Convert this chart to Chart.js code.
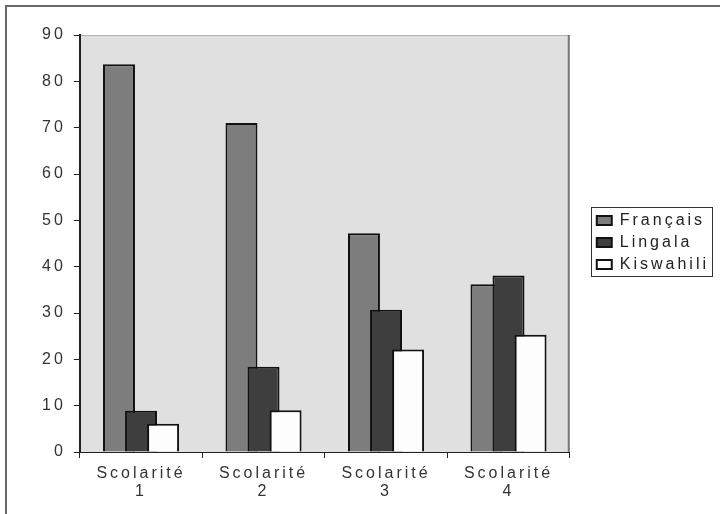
<!DOCTYPE html>
<html>
<head>
<meta charset="utf-8">
<script src="https://cdn.jsdelivr.net/npm/chart.js@4.4.0/dist/chart.umd.min.js"></script>
<style>
  html, body { margin: 0; padding: 0; background: #fff; }
  #wrap { width: 720px; height: 514px; position: relative; }
</style>
</head>
<body>
<div id="wrap"><canvas id="barChart" width="720" height="514"></canvas></div>
<script>
// data
var categories = [['Scolarité', '1'], ['Scolarité', '2'], ['Scolarité', '3'], ['Scolarité', '4']];
var francais = [83.7, 71.0, 47.2, 36.2];
var lingala = [8.9, 18.4, 30.7, 38.1];
var kiswahili = [6.1, 9.0, 22.1, 25.3];
var yTicks = [0, 10, 20, 30, 40, 50, 60, 70, 80, 90];

var fontFamily = '"Liberation Sans", Arial, sans-serif';
var spacing = '3px'; // the original text is widely spaced
var legendGap = 21;  // room between plot and legend
var legendDrop = -1;

var decoPlugin = {
  id: 'deco',
  beforeUpdate: function(chart) {
    chart.ctx.letterSpacing = spacing;
  },
  beforeLayout: function(chart) {
    var lg = chart.legend;
    if (lg && !lg._gapPatched) {
      var origFit = lg.fit;
      lg.fit = function() {
        origFit.call(this);
        this.width += legendGap;
      };
      lg._gapPatched = true;
    }
  },
  afterLayout: function(chart) {
    var lg = chart.legend;
    if (lg) {
      lg.left += legendGap;
      lg.top += legendDrop;
      lg.bottom += legendDrop;
    }
  },
  beforeDraw: function(chart) {
    var ctx = chart.ctx;
    var a = chart.chartArea;
    ctx.letterSpacing = spacing;
    ctx.save();
    ctx.fillStyle = '#fff';
    ctx.fillRect(0, 0, chart.width, chart.height);
    // frame, only top and left are visible in the original
    ctx.strokeStyle = '#6a6a6a';
    ctx.lineWidth = 2;
    ctx.beginPath();
    ctx.moveTo(6, chart.height);
    ctx.lineTo(6, 6);
    ctx.lineTo(chart.width, 6);
    ctx.stroke();
    // grey plot area
    ctx.fillStyle = '#e0e0e0';
    ctx.fillRect(a.left, a.top, a.right - a.left, a.bottom - a.top);
    ctx.strokeStyle = '#b0b0b0';
    ctx.lineWidth = 1;
    ctx.beginPath();
    ctx.moveTo(a.left, a.top + 0.5);
    ctx.lineTo(a.right, a.top + 0.5);
    ctx.stroke();
    ctx.strokeStyle = '#777';
    ctx.lineWidth = 2;
    ctx.beginPath();
    ctx.moveTo(a.right - 1, a.top);
    ctx.lineTo(a.right - 1, a.bottom);
    ctx.stroke();
    ctx.restore();
  },
  // draw Français first so Kiswahili ends up on top, like the original
  beforeDatasetsDraw: function(chart) {
    var metas = chart.getSortedVisibleDatasetMetas();
    for (var i = 0; i < metas.length; i++) {
      metas[i].controller.draw();
    }
    return false;
  },
  afterDraw: function(chart) {
    var lg = chart.legend;
    if (!lg) return;
    var items = lg.legendHitBoxes;
    if (!items || !items.length) return;
    var ctx = chart.ctx;
    var left = items[0].left - 6;
    var top = items[0].top - 6;
    var right = 0;
    items.forEach(function(h) { right = Math.max(right, h.left + h.width); });
    var last = items[items.length - 1];
    var bottom = last.top + last.height + 3;
    ctx.save();
    ctx.strokeStyle = '#333';
    ctx.lineWidth = 1;
    ctx.strokeRect(Math.round(left) + 0.5, Math.round(top) + 0.5, Math.round(right - left + 3), Math.round(bottom - top));
    ctx.restore();
  }
};

function makeSet(label, values, colour) {
  return {
    label: label,
    data: values,
    backgroundColor: colour,
    borderColor: '#111',
    borderWidth: 2,
    borderSkipped: 'bottom',
    categoryPercentage: 0.54,
    barPercentage: 1.45
  };
}

var ctx = document.getElementById('barChart').getContext('2d');
var barChart = new Chart(ctx, {
  type: 'bar',
  data: {
    labels: categories,
    datasets: [
      makeSet('Français', francais, '#7d7d7d'),
      makeSet('Lingala', lingala, '#3e3e3e'),
      makeSet('Kiswahili', kiswahili, '#fdfdfd')
    ]
  },
  options: {
    responsive: false,
    animation: false,
    layout: { padding: { left: 34, top: 35, right: 1, bottom: 6 } },
    plugins: {
      tooltip: { enabled: false },
      legend: {
        position: 'right',
        align: 'center',
        fullSize: false,
        labels: {
          boxWidth: 15,
          boxHeight: 9,
          padding: 6,
          color: '#222',
          font: { family: fontFamily, size: 16 }
        }
      }
    },
    scales: {
      x: {
        offset: true,
        grid: { offset: true, drawOnChartArea: false, tickLength: 6, color: '#222', lineWidth: 1 },
        border: { color: '#222', width: 1 },
        ticks: { color: '#333', padding: 7, maxRotation: 0, font: { family: fontFamily, size: 16, lineHeight: 1.125 } }
      },
      y: {
        min: 0,
        max: 90,
        afterBuildTicks: function(scale) {
          scale.ticks = yTicks.map(function(v) { return { value: v }; });
        },
        grid: { drawOnChartArea: false, tickLength: 6, color: '#222', lineWidth: 1 },
        border: { color: '#222', width: 2 },
        ticks: { color: '#333', padding: 8, font: { family: fontFamily, size: 16 } }
      }
    }
  },
  plugins: [decoPlugin]
});
</script>
</body>
</html>
